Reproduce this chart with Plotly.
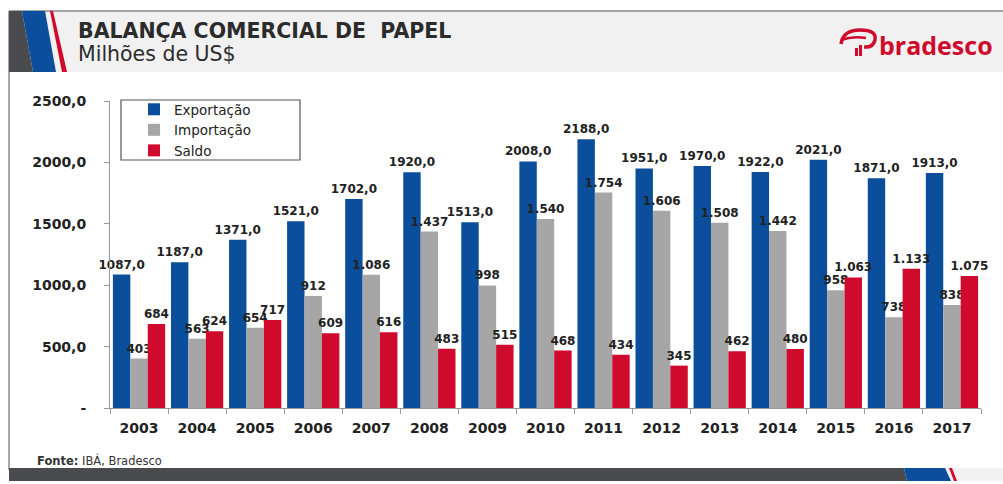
import plotly.graph_objects as go

years = ["2003", "2004", "2005", "2006", "2007", "2008", "2009", "2010",
         "2011", "2012", "2013", "2014", "2015", "2016", "2017"]
exportacao = [1087, 1187, 1371, 1521, 1702, 1920, 1513, 2008, 2188, 1951, 1970, 1922, 2021, 1871, 1913]
importacao = [403, 563, 654, 912, 1086, 1437, 998, 1540, 1754, 1606, 1508, 1442, 958, 738, 838]
saldo = [684, 624, 717, 609, 616, 483, 515, 468, 434, 345, 462, 480, 1063, 1133, 1075]
ytick_vals = [0, 500, 1000, 1500, 2000, 2500]
ytick_text = ["-", "500,0", "1000,0", "1500,0", "2000,0", "2500,0"]

BLUE = "#0b4f9c"
GRAY = "#a6a6a6"
RED = "#cf0a2c"
DARK = "#4a4b4f"
LIGHT = "#f1f1f1"

W, H = 1003, 484
L, R, T, B = 110, 981, 101, 408


def px(x):
    return (x - L) / (R - L)


def py(y):
    return (B - y) / (B - T)


def thou(v):
    return f"{v:,}".replace(",", ".")


exp_txt = [f"{v},0" for v in exportacao]
imp_txt = [thou(v) for v in importacao]
sal_txt = [thou(v) for v in saldo]

lbl_font = dict(family="DejaVu Sans", size=12, color="#222222")

fig = go.Figure()
for name, vals, txt, col in [("Exportação", exportacao, exp_txt, BLUE),
                              ("Importação", importacao, imp_txt, GRAY),
                              ("Saldo", saldo, sal_txt, RED)]:
    fig.add_trace(go.Bar(
        x=years, y=vals, name=name, marker_color=col, marker_line_width=0,
        text=[f"<b>{t}</b>" for t in txt], textposition="outside",
        textfont=lbl_font, constraintext="none", cliponaxis=False,
    ))


def poly(pts, color, layer="below"):
    d = "M " + " L ".join(f"{px(x)},{py(y)}" for x, y in pts) + " Z"
    return dict(type="path", xref="paper", yref="paper", path=d,
                fillcolor=color, line=dict(width=0), layer=layer)


def rect(x0, y0, x1, y1, color, lw=0, lc=None, layer="below"):
    return dict(type="rect", xref="paper", yref="paper",
                x0=px(x0), x1=px(x1), y0=py(y1), y1=py(y0),
                fillcolor=color, line=dict(width=lw, color=lc or color), layer=layer)


def line(x0, y0, x1, y1, color, w=1.5):
    return dict(type="line", xref="paper", yref="paper",
                x0=px(x0), x1=px(x1), y0=py(y0), y1=py(y1),
                line=dict(color=color, width=w), layer="below")


shapes = [
    rect(9, 11, 1003, 72, LIGHT),
    line(9, 11, 1003, 11, "#8a8a8a", 1.5),
    line(9, 11, 9, 470, "#8a8a8a", 1.5),
    poly([(9, 11), (22, 11), (33, 72), (9, 72)], DARK),
    poly([(22, 11), (45, 11), (56, 72), (33, 72)], BLUE),
    poly([(50, 11), (53, 11), (67, 72), (62, 72)], RED),
    # bottom bar
    rect(9, 468, 1003, 481, LIGHT),
    poly([(9, 468), (904, 468), (907, 481), (9, 481)], DARK),
    poly([(904, 468), (945, 468), (951, 481), (907, 481)], BLUE),
    poly([(949, 468), (952, 468), (957, 481), (954, 481)], RED),
    # legend frame
    dict(type="rect", xref="paper", yref="paper",
         x0=px(121), x1=px(300), y0=py(160), y1=py(100),
         fillcolor="white", line=dict(color="#555555", width=1.2), layer="below"),
    # bradesco icon
    dict(type="path", xref="paper", yref="paper",
         path=f"M {px(841)},{py(44)} Q {px(843)},{py(30)} {px(860)},{py(30)} "
              f"Q {px(877)},{py(30)} {px(875)},{py(40)} Q {px(873)},{py(48)} {px(864)},{py(47)}",
         line=dict(color=RED, width=3.5)),
    dict(type="path", xref="paper", yref="paper",
         path=f"M {px(841)},{py(40)} Q {px(852)},{py(36)} {px(866)},{py(38)}",
         line=dict(color=RED, width=2.5)),
    rect(855, 48, 858, 56, RED, layer="above"),
    rect(859, 45, 862, 56, RED, layer="above"),
]

annotations = [
    dict(text="<b>BALANÇA COMERCIAL DE&nbsp;&nbsp;PAPEL</b>", x=px(76), y=py(31), xref="paper", yref="paper",
         xanchor="left", yanchor="middle", showarrow=False,
         font=dict(family="DejaVu Sans", size=20.5, color="#2b2b2b")),
    dict(text="Milhões de US$", x=px(76), y=py(54), xref="paper", yref="paper",
         xanchor="left", yanchor="middle", showarrow=False,
         font=dict(family="DejaVu Sans", size=20.5, color="#2b2b2b")),
    dict(text="<b>bradesco</b>", x=px(877), y=py(45), xref="paper", yref="paper",
         xanchor="left", yanchor="middle", showarrow=False,
         font=dict(family="Open Sans", size=25, color=RED)),
    dict(text="<b>Fonte:</b> IBÁ, Bradesco", x=px(35), y=py(460), xref="paper", yref="paper",
         xanchor="left", yanchor="middle", showarrow=False,
         font=dict(family="DejaVu Sans", size=11.5, color="#333333")),
]

fig.update_layout(
    width=W, height=H,
    margin=dict(l=L, r=W - R, t=T, b=H - B),
    paper_bgcolor="white", plot_bgcolor="rgba(0,0,0,0)",
    barmode="group", bargap=0.1, bargroupgap=0,
    shapes=shapes, annotations=annotations,
    legend=dict(x=px(134), y=py(94), xanchor="left", yanchor="top",
                borderwidth=0, bgcolor="rgba(0,0,0,0)",
                font=dict(family="DejaVu Sans", size=13.5, color="#222222"),
                tracegroupgap=0, itemwidth=30, indentation=0),
    showlegend=True,
    xaxis=dict(type="category", showline=True, linecolor="#9a9a9a", linewidth=1,
               ticks="outside", tickson="boundaries", ticklen=5, tickcolor="#9a9a9a",
               tickfont=dict(family="DejaVu Sans", size=14, color="#222222"),
               ticklabelstandoff=7, showgrid=False, fixedrange=True),
    yaxis=dict(range=[0, 2500], showline=True, linecolor="#9a9a9a", linewidth=1,
               ticks="outside", ticklen=5, tickcolor="#9a9a9a",
               tickvals=ytick_vals, ticktext=[f"<b>{t}</b>" for t in ytick_text],
               tickfont=dict(family="DejaVu Sans", size=14, color="#222222"),
               ticklabelstandoff=15, showgrid=False, zeroline=False, fixedrange=True),
    font=dict(family="DejaVu Sans"),
)
fig.update_xaxes(tickvals=years, ticktext=[f"<b>{y}</b>" for y in years])

fig.write_html("out.html", config={"displayModeBar": False},
               post_script="document.body.style.margin='0';document.body.style.overflow='hidden';")
